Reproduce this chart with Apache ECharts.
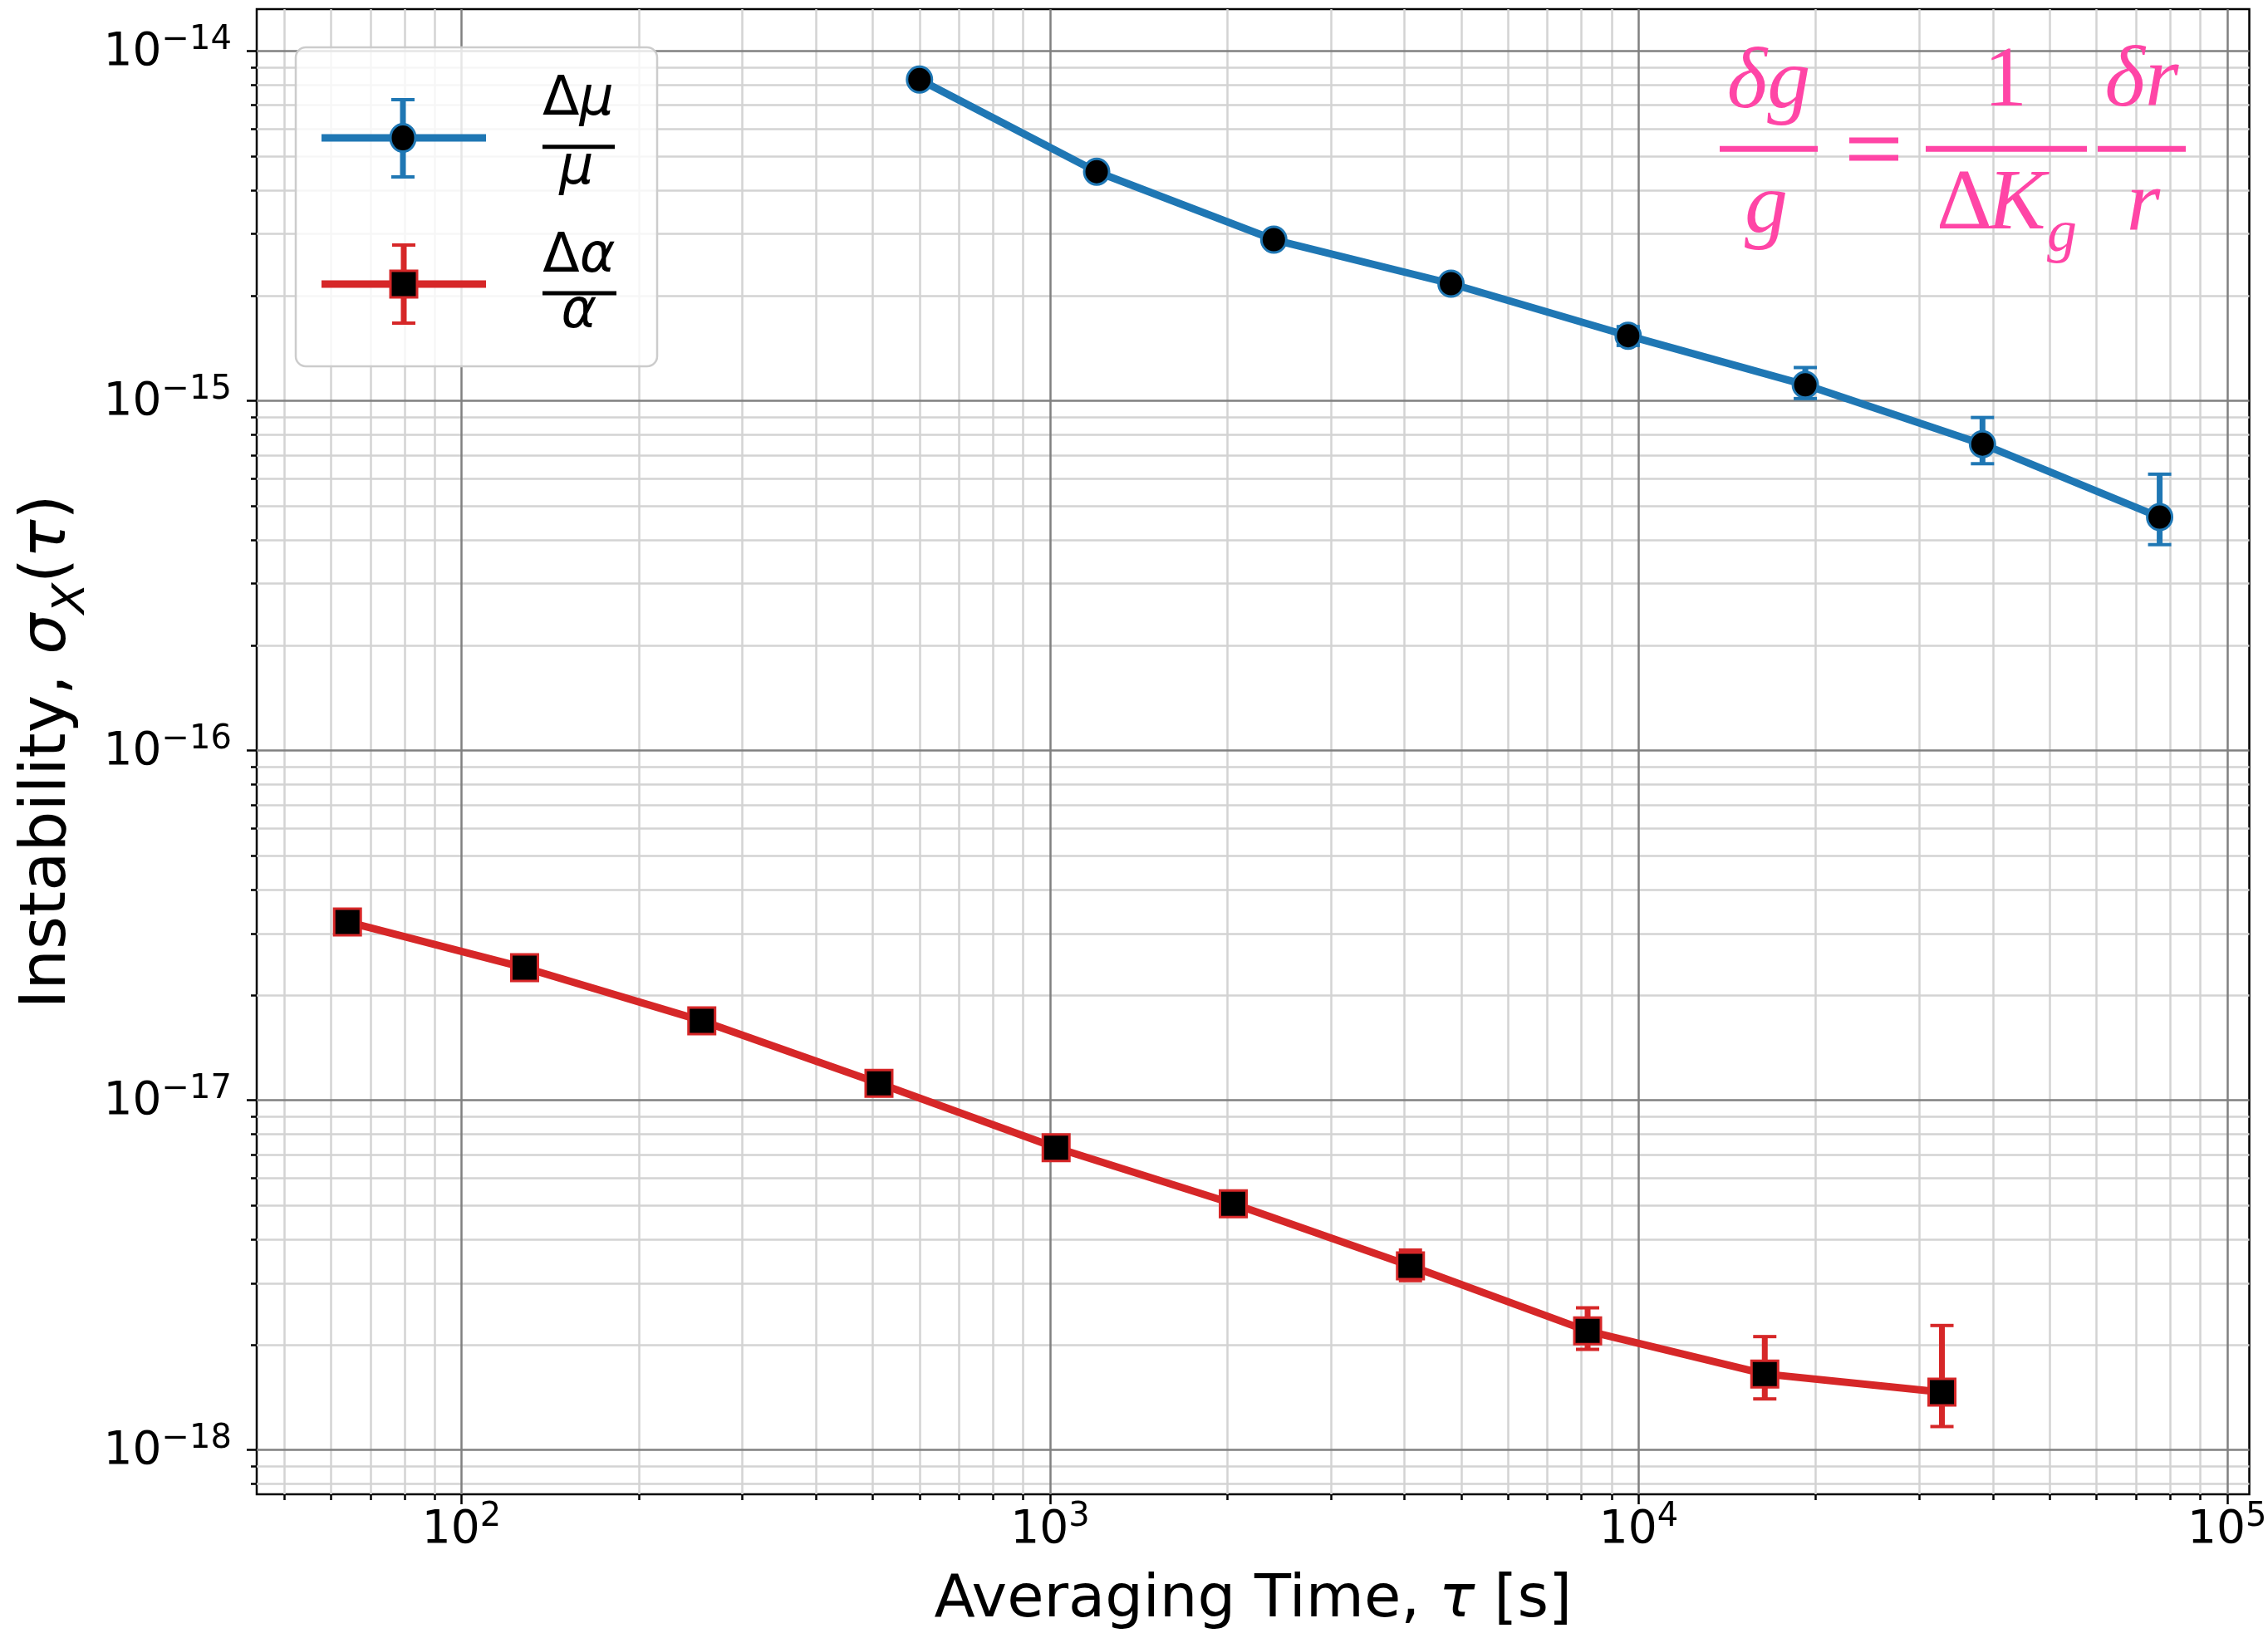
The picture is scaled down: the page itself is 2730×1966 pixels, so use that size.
<!DOCTYPE html>
<html>
<head>
<meta charset="utf-8">
<style>
  html, body { margin: 0; padding: 0; background: #fff; }
  #chart { width: 2730px; height: 1966px; }
</style>
<script src="https://cdn.jsdelivr.net/npm/echarts@6/dist/echarts.min.js"></script>
</head>
<body>
<div id="chart"></div>
<script>
// averaging times [s] and instabilities
const tauMu = [600, 1200, 2400, 4800, 9600, 19200, 38400, 76800];
const sigmaMu = [8.29e-15, 4.52e-15, 2.89e-15, 2.163e-15, 1.535e-15, 1.111e-15, 7.52e-16, 4.65e-16];
const muLo = [8.12e-15, 4.42e-15, 2.83e-15, 2.11e-15, 1.44e-15, 1.015e-15, 6.61e-16, 3.88e-16];
const muHi = [8.46e-15, 4.62e-15, 2.95e-15, 2.22e-15, 1.63e-15, 1.245e-15, 8.96e-16, 6.17e-16];

const tauAlpha = [64, 128, 256, 512, 1024, 2048, 4096, 8192, 16384, 32768];
const sigmaAlpha = [3.236e-17, 2.394e-17, 1.688e-17, 1.118e-17, 7.32e-18, 5.06e-18, 3.363e-18, 2.19e-18, 1.65e-18, 1.464e-18];
const alphaLo = [3.17e-17, 2.35e-17, 1.65e-17, 1.10e-17, 7.14e-18, 4.92e-18, 3.05e-18, 1.94e-18, 1.40e-18, 1.167e-18];
const alphaHi = [3.30e-17, 2.44e-17, 1.72e-17, 1.14e-17, 7.50e-18, 5.20e-18, 3.73e-18, 2.55e-18, 2.11e-18, 2.27e-18];

const xMajor = [1e2, 1e3, 1e4, 1e5];
const yMajor = [1e-18, 1e-17, 1e-16, 1e-15, 1e-14];

const xMin = Math.pow(10, 1.652), xMax = Math.pow(10, 5.0377);
const yMin = Math.pow(10, -18.1266), yMax = Math.pow(10, -13.88);

const BLUE = '#1f77b4', RED = '#d62728', PINK = '#ff45a6';
const FONT = 'DejaVu Sans';
const SERIF = 'Liberation Serif';

function minorTicks(eLo, eHi) {
  const out = [];
  for (let e = eLo; e <= eHi; e++) {
    for (let k = 2; k <= 9; k++) out.push(k * Math.pow(10, e));
  }
  return out;
}

function powLabel(v) {
  const e = Math.round(Math.log10(v));
  return '{b|10}{s|' + (e < 0 ? '\u2212' : '') + Math.abs(e) + '}';
}

const tickRich = {
  b: { fontFamily: FONT, fontSize: 55, color: '#000', lineHeight: 60, verticalAlign: 'bottom' },
  s: { fontFamily: FONT, fontSize: 40, color: '#000', lineHeight: 44, verticalAlign: 'bottom', padding: [0, 0, 23, 0] }
};

function majorAxis(pos, ticks, min, max, extra) {
  return Object.assign({
    type: 'log', logBase: 10, min: min, max: max, position: pos, z: 1,
    axisLine: { show: false },
    axisTick: { show: true, length: 12, customValues: ticks, lineStyle: { color: '#000', width: 2.5 } },
    axisLabel: { customValues: ticks, formatter: powLabel, rich: tickRich },
    splitLine: { show: true, lineStyle: { color: '#808080', width: 2.5 } },
    minorTick: { show: false }, minorSplitLine: { show: false }
  }, extra);
}

function minorAxis(pos, ticks, min, max) {
  return {
    type: 'log', logBase: 10, min: min, max: max, position: pos, z: 0,
    axisLine: { show: false },
    axisTick: { show: true, length: 7, customValues: ticks, lineStyle: { color: '#000', width: 2.5 } },
    axisLabel: { show: false },
    splitLine: { show: true, lineStyle: { color: '#d3d3d3', width: 2.5 } }
  };
}

function errorBarItem(color) {
  return function (params, api) {
    const x = api.value(0);
    const top = api.coord([x, api.value(2)]);
    const bot = api.coord([x, api.value(1)]);
    const half = 14;
    return {
      type: 'group',
      children: [
        { type: 'line', shape: { x1: top[0], y1: top[1], x2: bot[0], y2: bot[1] }, style: { stroke: color, lineWidth: 7 } },
        { type: 'line', shape: { x1: top[0] - half, y1: top[1], x2: top[0] + half, y2: top[1] }, style: { stroke: color, lineWidth: 4 } },
        { type: 'line', shape: { x1: bot[0] - half, y1: bot[1], x2: bot[0] + half, y2: bot[1] }, style: { stroke: color, lineWidth: 4 } }
      ]
    };
  };
}

const mathRich = (fs) => ({
  u: { fontFamily: FONT, fontSize: fs, color: '#000' },
  i: { fontFamily: FONT, fontSize: fs, fontStyle: 'italic', color: '#000' }
});

const legendGraphics = [
  { type: 'rect', z: 10, shape: { x: 356, y: 57, width: 435, height: 384, r: 12 },
    style: { fill: 'rgba(255,255,255,0.8)', stroke: '#cccccc', lineWidth: 2.5 } },
  // blue entry
  { type: 'line', z: 11, shape: { x1: 387, y1: 166, x2: 585, y2: 166 }, style: { stroke: BLUE, lineWidth: 9 } },
  { type: 'line', z: 11, shape: { x1: 485, y1: 120, x2: 485, y2: 213 }, style: { stroke: BLUE, lineWidth: 7 } },
  { type: 'line', z: 11, shape: { x1: 471, y1: 120, x2: 499, y2: 120 }, style: { stroke: BLUE, lineWidth: 4 } },
  { type: 'line', z: 11, shape: { x1: 471, y1: 213, x2: 499, y2: 213 }, style: { stroke: BLUE, lineWidth: 4 } },
  { type: 'ellipse', z: 12, shape: { cx: 485, cy: 166, rx: 15, ry: 16.5 }, style: { fill: '#000', stroke: BLUE, lineWidth: 3 } },
  // red entry
  { type: 'line', z: 11, shape: { x1: 387, y1: 342, x2: 585, y2: 342 }, style: { stroke: RED, lineWidth: 9 } },
  { type: 'line', z: 11, shape: { x1: 486, y1: 295, x2: 486, y2: 389 }, style: { stroke: RED, lineWidth: 7 } },
  { type: 'line', z: 11, shape: { x1: 472, y1: 295, x2: 500, y2: 295 }, style: { stroke: RED, lineWidth: 4 } },
  { type: 'line', z: 11, shape: { x1: 472, y1: 389, x2: 500, y2: 389 }, style: { stroke: RED, lineWidth: 4 } },
  { type: 'rect', z: 12, shape: { x: 470, y: 326, width: 32, height: 32 }, style: { fill: '#000', stroke: RED, lineWidth: 3 } },
  // fraction labels
  { type: 'text', z: 12, style: { text: '{u|\u0394}{i|\u03bc}', x: 696, y: 121, align: 'center', verticalAlign: 'middle', rich: mathRich(65) } },
  { type: 'rect', z: 12, shape: { x: 653, y: 174.2, width: 87, height: 5 }, style: { fill: '#000' } },
  { type: 'text', z: 12, style: { text: '{i|\u03bc}', x: 694, y: 204, align: 'center', verticalAlign: 'middle', rich: mathRich(65) } },
  { type: 'text', z: 12, style: { text: '{u|\u0394}{i|\u03b1}', x: 697, y: 310, align: 'center', verticalAlign: 'middle', rich: mathRich(65) } },
  { type: 'rect', z: 12, shape: { x: 653, y: 350.5, width: 89, height: 5 }, style: { fill: '#000' } },
  { type: 'text', z: 12, style: { text: '{i|\u03b1}', x: 697, y: 377, align: 'center', verticalAlign: 'middle', rich: mathRich(65) } }
];

const eqText = (text, x, y, italic, size, align) => ({
  type: 'text', z: 12,
  style: { text: text, x: x, y: y, align: align || 'center', verticalAlign: 'middle',
    fontFamily: SERIF, fontSize: size || 104, fontStyle: italic ? 'italic' : 'normal', fill: PINK }
});
const eqBar = (x1, x2, y) => ({ type: 'rect', z: 12, shape: { x: x1, y: y - 3.5, width: x2 - x1, height: 7 }, style: { fill: PINK } });

const equationGraphics = [
  eqText('\u03b4g', 2129, 102, true),
  eqBar(2070, 2188, 179.3),
  eqText('g', 2126, 252, true),
  eqBar(2226, 2285, 169),
  eqBar(2226, 2285, 190),
  eqText('1', 2414, 100, false),
  eqBar(2318, 2512, 179.3),
  eqText('\u0394', 2331, 248, false, 104, 'left'),
  eqText('K', 2393, 248, true, 104, 'left'),
  eqText('g', 2464, 283, true, 72, 'left'),
  eqText('\u03b4r', 2578, 100, true),
  eqBar(2525, 2631, 179.3),
  eqText('r', 2580, 250, true)
];

// descender of a title cut off by the top edge
const titleGraphics = [
  { type: 'text', z: 12, style: { text: 'y', x: 1025, y: -39, align: 'center', verticalAlign: 'middle',
    fontFamily: FONT, fontSize: 72, fontWeight: 'bold', fill: '#000' } }
];

const chart = echarts.init(document.getElementById('chart'));

chart.setOption({
  animation: false,
  backgroundColor: '#fff',
  grid: {
    left: 309, top: 11, width: 2398.5, height: 1788,
    show: true, borderColor: '#000', borderWidth: 2.5, backgroundColor: 'transparent',
    containLabel: false, outerBoundsMode: 'none'
  },
  xAxis: [
    majorAxis('bottom', xMajor, xMin, xMax, {
      axisLabel: { customValues: xMajor, formatter: powLabel, rich: tickRich, margin: 11 },
      name: 'Averaging Time, {i|\u03c4} [s]',
      nameLocation: 'middle', nameGap: 88,
      nameTextStyle: {
        fontFamily: FONT, fontSize: 72, color: '#000', lineHeight: 80,
        rich: { i: { fontFamily: FONT, fontSize: 72, fontStyle: 'italic', color: '#000', lineHeight: 80 } }
      }
    }),
    minorAxis('bottom', minorTicks(1, 4), xMin, xMax)
  ],
  yAxis: [
    majorAxis('left', yMajor, yMin, yMax, {
      axisLabel: { customValues: yMajor, formatter: powLabel, rich: tickRich, margin: 30 },
      name: '{t|Instability, }{i|\u03c3}{sb|X}{t|(}{i|\u03c4}{t|)}',
      nameLocation: 'middle', nameGap: 188, nameRotate: 90,
      nameTextStyle: {
        rich: {
          t: { fontFamily: FONT, fontSize: 77, color: '#000', lineHeight: 86, verticalAlign: 'top' },
          i: { fontFamily: FONT, fontSize: 77, fontStyle: 'italic', color: '#000', lineHeight: 86, verticalAlign: 'top' },
          sb: { fontFamily: FONT, fontSize: 54, fontStyle: 'italic', color: '#000', lineHeight: 54, verticalAlign: 'top', padding: [40, 0, 0, 0] }
        }
      }
    }),
    minorAxis('left', minorTicks(-19, -15), yMin, yMax)
  ],
  series: [
    {
      type: 'custom', name: 'muErr', z: 2,
      renderItem: errorBarItem(BLUE),
      encode: { x: 0, y: [1, 2] },
      data: tauMu.map((t, i) => [t, muLo[i], muHi[i]])
    },
    {
      type: 'custom', name: 'alphaErr', z: 2,
      renderItem: errorBarItem(RED),
      encode: { x: 0, y: [1, 2] },
      data: tauAlpha.map((t, i) => [t, alphaLo[i], alphaHi[i]])
    },
    {
      type: 'line', name: '\u0394\u03bc/\u03bc', z: 3,
      data: tauMu.map((t, i) => [t, sigmaMu[i]]),
      lineStyle: { color: BLUE, width: 9 },
      symbol: 'circle', symbolSize: [30, 31], showAllSymbol: true,
      itemStyle: { color: '#000', borderColor: BLUE, borderWidth: 3 },
      emphasis: { disabled: true }
    },
    {
      type: 'line', name: '\u0394\u03b1/\u03b1', z: 3,
      data: tauAlpha.map((t, i) => [t, sigmaAlpha[i]]),
      lineStyle: { color: RED, width: 9 },
      symbol: 'rect', symbolSize: 32, showAllSymbol: true,
      itemStyle: { color: '#000', borderColor: RED, borderWidth: 3 },
      emphasis: { disabled: true }
    }
  ],
  graphic: legendGraphics.concat(equationGraphics, titleGraphics)
});
</script>
</body>
</html>
